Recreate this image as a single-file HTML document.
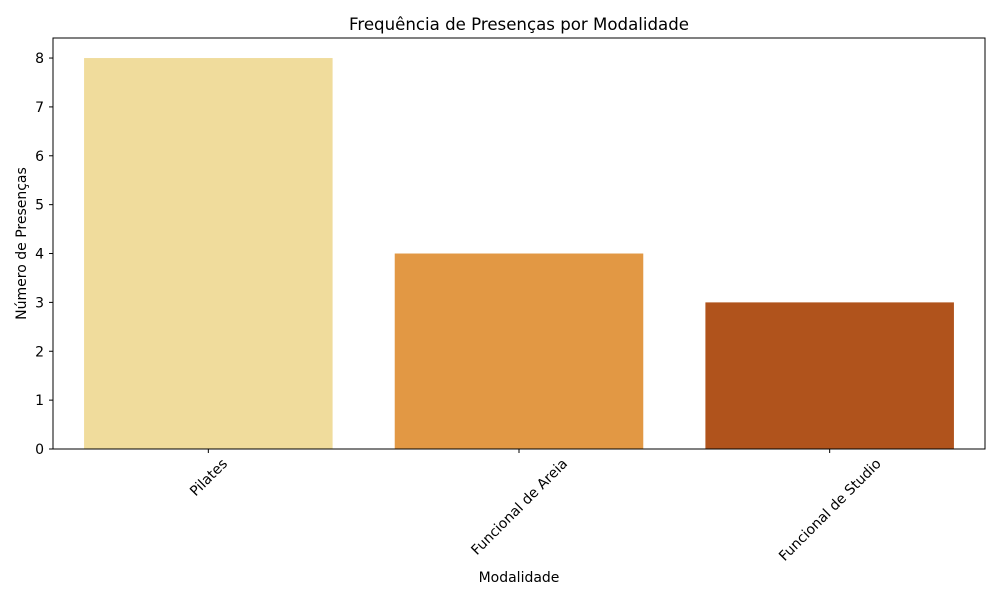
<!DOCTYPE html>
<html><head><meta charset="utf-8"><style>body{margin:0;background:#fff}svg{font-family:"DejaVu Sans","Liberation Sans",sans-serif}</style></head>
<body>
<svg id="chart" width="1000" height="600" viewBox="0 0 1000 600">
<rect width="1000" height="600" fill="#fff"/>
<text x="519" y="30" font-size="16.7" text-anchor="middle" textLength="340" lengthAdjust="spacingAndGlyphs">Frequência de Presenças por Modalidade</text>
<g id="bars"></g><g id="yticks"></g><g id="xticks"></g>
<rect x="53" y="38" width="932" height="411" fill="none" stroke="#000" stroke-width="1"/>
<text x="519" y="582" font-size="14" text-anchor="middle">Modalidade</text>
<text transform="translate(26,243.5) rotate(-90)" font-size="14" text-anchor="middle">Número de Presenças</text>
</svg>
<script>
const categories=["Pilates","Funcional de Areia","Funcional de Studio"];
const values=[8,4,3];
const yTicks=[0,1,2,3,4,5,6,7,8];
const colors=["#f0dc9c","#e29844","#b0531c"];
const L=53,R=985,T=38,B=449,yMax=8.41;
const ns="http://www.w3.org/2000/svg";
const xs=i=>L+(i+0.5)*(R-L)/categories.length;
const ys=v=>B-v*(B-T)/yMax;
const bw=0.8*(R-L)/categories.length;
const bars=document.getElementById('bars'),yt=document.getElementById('yticks'),xt=document.getElementById('xticks');
values.forEach((v,i)=>{const r=document.createElementNS(ns,'rect');


r.setAttribute('x',xs(i)-bw/2);r.setAttribute('y',ys(v));r.setAttribute('width',bw);r.setAttribute('height',B-ys(v));r.setAttribute('fill',colors[i]);bars.appendChild(r);});
yTicks.forEach(t=>{const y=ys(t);const l=document.createElementNS(ns,'line');


l.setAttribute('x1',L-4);l.setAttribute('x2',L);l.setAttribute('y1',y);l.setAttribute('y2',y);l.setAttribute('stroke','#000');yt.appendChild(l);
const tx=document.createElementNS(ns,'text');


tx.setAttribute('x',L-9);tx.setAttribute('y',y+5);tx.setAttribute('font-size','14');tx.setAttribute('text-anchor','end');tx.textContent=t;yt.appendChild(tx);});
categories.forEach((c,i)=>{const x=xs(i);const l=document.createElementNS(ns,'line');


l.setAttribute('x1',x);l.setAttribute('x2',x);l.setAttribute('y1',B);l.setAttribute('y2',B+4);l.setAttribute('stroke','#000');xt.appendChild(l);
const tx=document.createElementNS(ns,'text');


tx.setAttribute('font-size','14');tx.setAttribute('text-anchor','middle');tx.textContent=c;xt.appendChild(tx);
const w=tx.getComputedTextLength(),h=14;const cy=456+(w+h)*0.7071/2;
tx.setAttribute('x',0);tx.setAttribute('y',5);
tx.setAttribute('transform','translate('+x+','+cy+') rotate(-45)');});
</script>
</body></html>
